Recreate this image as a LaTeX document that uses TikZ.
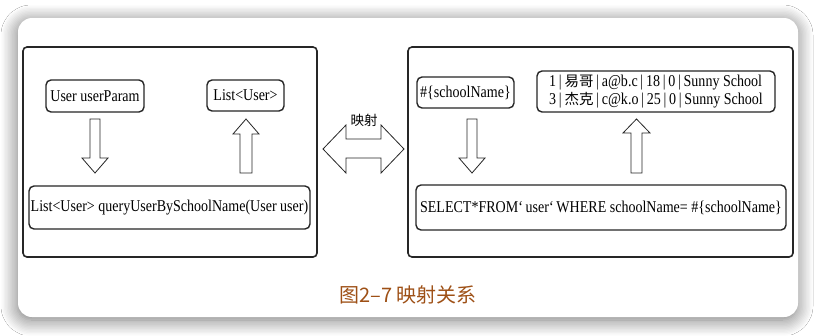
\documentclass[tikz,border=0pt]{standalone}
\usepackage{fontspec}
\setmainfont{Liberation Serif}[FakeStretch=0.85]
\newfontfamily\cjk{Noto Sans CJK SC}
\usetikzlibrary{shadows.blur}
\definecolor{framegray}{RGB}{38,38,38}
\definecolor{captionbrown}{RGB}{158,80,22}

\begin{document}
\begin{tikzpicture}[x=1pt, y=-1pt,
card/.style={fill=white, rounded corners=14pt, blur shadow={shadow xshift=-1pt, shadow yshift=-3pt, shadow blur radius=16pt, shadow blur steps=12, shadow opacity=55}},
panel/.style={draw=framegray, line width=1.6pt, rounded corners=4pt},
textbox/.style={draw=framegray, line width=1.4pt, rounded corners=5pt, inner sep=0pt, font=\fontsize{16.5}{18}\selectfont},
hollow/.style={draw=framegray, line width=0.8pt, fill=white},
]
\useasboundingbox[fill=white] (0,0) rectangle (816,335);
\path[card] (18,18) rectangle (798,317);

%Panels
\draw[panel] (23,47) rectangle (317,257);
\draw[panel] (408,47) rectangle (793,257);

%Nodes
\node[textbox, minimum width=98pt, minimum height=32pt]  (param)   at (95,96)     {User userParam};
\node[textbox, minimum width=77pt, minimum height=31pt]  (result)  at (245.5,95.5) {List<User>};
\node[textbox, minimum width=281pt, minimum height=43pt] (method)  at (169.5,207.5) {List<User> queryUserBySchoolName(User user)};
\node[textbox, minimum width=97pt, minimum height=31pt]  (school)  at (465.5,92.5) {\#\{schoolName\}};
\node[textbox, minimum width=238pt, minimum height=41pt, align=left] (rows) at (656,91.5)
  {1\,|\,{\cjk\fontsize{14.5}{18}\selectfont 易哥}\,|\,a@b.c\,|\,18\,|\,0\,|\,Sunny School\\
   3\,|\,{\cjk\fontsize{14.5}{18}\selectfont 杰克}\,|\,c@k.o\,|\,25\,|\,0\,|\,Sunny School};
\node[textbox, minimum width=370pt, minimum height=45pt] (sql) at (601,207.5)
  {SELECT*FROM{`}\,user{`}\,WHERE schoolName= \#\{schoolName\}};

%Hollow arrows
\draw[hollow] (90,119) -- (100,119) -- (100,158) -- (108,158) -- (95,173) -- (82,158) -- (90,158) -- cycle;
\draw[hollow] (240,173) -- (252,173) -- (252,134) -- (259,134) -- (246,119) -- (233,134) -- (240,134) -- cycle;
\draw[hollow] (467,119) -- (477,119) -- (477,158) -- (485,158) -- (472,173) -- (459,158) -- (467,158) -- cycle;
\draw[hollow] (631,173) -- (642,173) -- (642,133) -- (650,133) -- (636.5,119) -- (623,133) -- (631,133) -- cycle;
\draw[hollow] (323,149) -- (346,125) -- (346,139) -- (381,139) -- (381,125) -- (404,149)
  -- (381,173) -- (381,158) -- (346,158) -- (346,173) -- cycle;
\node[font=\cjk\fontsize{13.5}{14}\selectfont] (maplabel) at (364,120) {映射};

%Caption
\node[font=\cjk\fontsize{20}{22}\selectfont, text=captionbrown] (caption) at (408,295) {图2–7 映射关系};
\end{tikzpicture}
\end{document}
